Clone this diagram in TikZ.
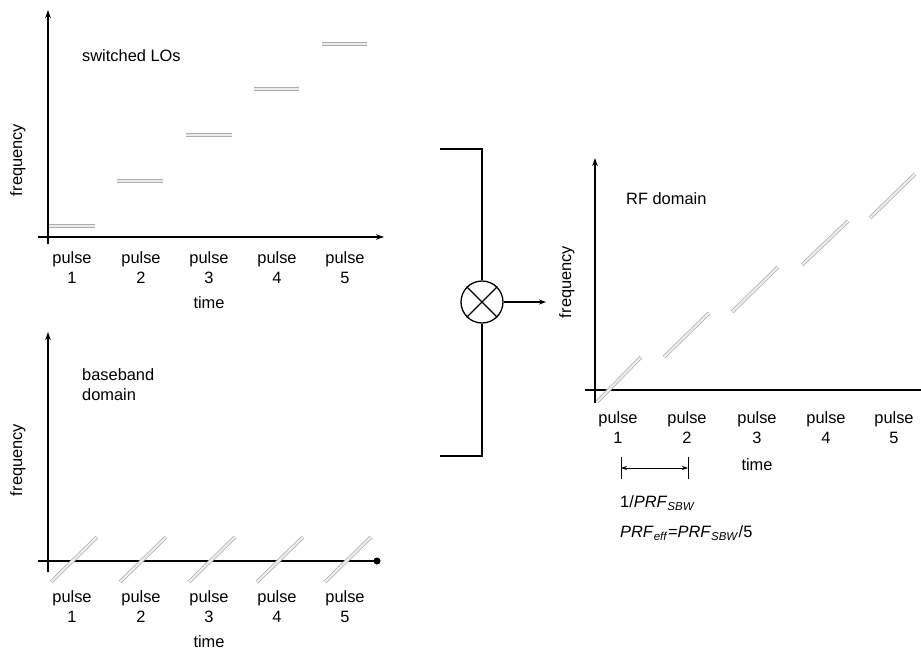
\documentclass[tikz,border=0pt]{standalone}
\usepackage{fontspec}
\setmainfont{Liberation Sans}
\usetikzlibrary{arrows.meta}
\begin{document}
\begin{tikzpicture}[x=1pt,y=-1pt,
 axis/.style={line width=1.5pt,-{Stealth[length=8pt,width=5.5pt]}},
 lbl/.style={font=\fontsize{16.4}{20}\selectfont, inner sep=0pt, align=center},
 seg/.style={draw=gray!65, line width=0.7pt, double=gray!15, double distance=2.2pt},
 wire/.style={line width=1.3pt}]
\useasboundingbox (0,0) rectangle (921,653);

% ---------- top-left: switched LOs ----------
\coordinate (t0) at (48,244); \coordinate (t1) at (48,10);
\coordinate (tx0) at (38,237); \coordinate (tx1) at (384,237);
\draw[axis] (t0) -- (t1);
\draw[axis] (tx0) -- (tx1);
\node[lbl, rotate=90] (tf) at (18,160) {frequency};
\node[lbl, anchor=west] (tt) at (82,56) {switched LOs};
\foreach \x/\n in {72/1,141/2,209/3,277/4,345/5}
  \node[lbl, anchor=north] (tp\n) at (\x,251) {pulse\\\n};
\node[lbl] (ttime) at (209,303) {time};
\coordinate (l1a) at (49,226); \coordinate (l1b) at (95,226);
\coordinate (l2a) at (117,181); \coordinate (l2b) at (163,181);
\coordinate (l3a) at (186,135); \coordinate (l3b) at (232,135);
\coordinate (l4a) at (254,89); \coordinate (l4b) at (299,89);
\coordinate (l5a) at (322,44); \coordinate (l5b) at (367,44);
\foreach \i in {1,...,5} \draw[seg] (l\i a) -- (l\i b);

% ---------- bottom-left: baseband ----------
\coordinate (b0) at (48,572); \coordinate (b1) at (48,332);
\coordinate (bx0) at (38,561); \coordinate (bx1) at (377,561);
\draw[axis] (b0) -- (b1);
\draw[line width=1.5pt] (bx0) -- (bx1);
\fill (bx1) circle (3.5pt);
\node[lbl, rotate=90] (bf) at (18,460) {frequency};
\node[lbl, anchor=north west, align=left] (bt) at (82,368) {baseband\\domain};
\foreach \x/\n in {72/1,141/2,209/3,277/4,345/5}
  \node[lbl, anchor=north] (bp\n) at (\x,590) {pulse\\\n};
\node[lbl] (btime) at (209,642) {time};
\foreach \i/\x in {1/51,2/120,3/189,4/257,5/325}
  \draw[seg] (\x,582) -- ++(46,-45);

% ---------- mixer ----------
\node[draw, circle, line width=1.3pt, minimum size=42pt, inner sep=0pt] (mix) at (482,302) {};
\draw[line width=1.1pt] (mix.north west) -- (mix.south east);
\draw[line width=1.1pt] (mix.north east) -- (mix.south west);
\coordinate (brt) at (440,149); \coordinate (brb) at (440,456);
\draw[wire] (brt) -| (mix.north);
\draw[wire] (mix.south) |- (brb);
\coordinate (mout) at (546,302);
\draw[line width=1.1pt,-{Stealth[length=7pt,width=5pt]}] (mix.east) -- (mout);

% ---------- right: RF domain ----------
\coordinate (r0) at (595,403); \coordinate (r1) at (595,158);
\coordinate (rx0) at (585,390); \coordinate (rx1) at (921,390);
\draw[axis] (r0) -- (r1);
\draw[line width=1.5pt] (rx0) -- (rx1);
\node[lbl, rotate=90] (rf) at (567,282) {frequency};
\node[lbl, anchor=west] (rt) at (626,199) {RF domain};
\foreach \x/\n in {618/1,687/2,757/3,826/4,894/5}
  \node[lbl, anchor=north] (rp\n) at (\x,411) {pulse\\\n};
\node[lbl] (rtime) at (757,465) {time};
\coordinate (s1a) at (597,402); \coordinate (s1b) at (641,357);
\coordinate (s2a) at (664,357); \coordinate (s2b) at (709,313);
\coordinate (s3a) at (732,312); \coordinate (s3b) at (778,267);
\coordinate (s4a) at (802,265); \coordinate (s4b) at (848,221);
\coordinate (s5a) at (870,218); \coordinate (s5b) at (915,174);
\foreach \i in {1,...,5} \draw[seg] (s\i a) -- (s\i b);

% dimension
\coordinate (d1) at (621,468); \coordinate (d2) at (688,468);
\draw[line width=0.8pt] (621,457) -- (621,479);
\draw[line width=0.8pt] (688,457) -- (688,479);
\draw[line width=0.6pt,{Stealth[length=6pt,width=4pt]}-{Stealth[length=6pt,width=4pt]}] (d1) -- (d2);
\node[lbl, anchor=west] (prf1) at (620,503) {1/\textit{PRF}\textsubscript{\textit{SBW}}};
\node[lbl, anchor=west] (prf2) at (620,533) {\textit{PRF}\textsubscript{\textit{eff}}=\textit{PRF}\textsubscript{\textit{SBW}}/5};
\end{tikzpicture}
\end{document}
